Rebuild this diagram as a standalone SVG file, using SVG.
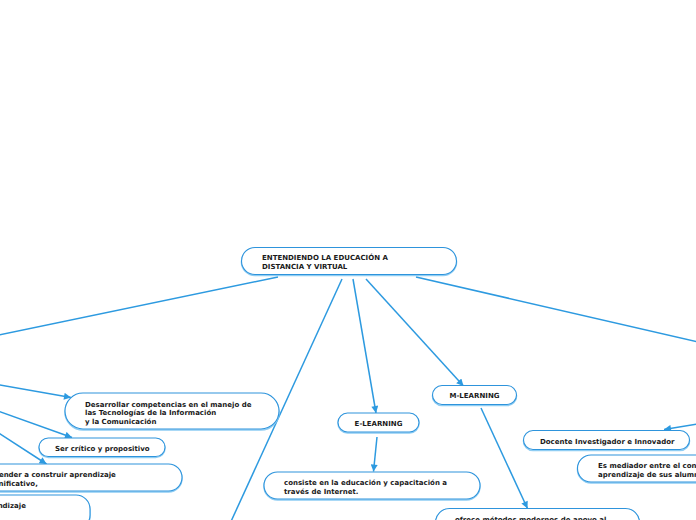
<svg xmlns="http://www.w3.org/2000/svg" width="696" height="520" viewBox="0 0 696 520">
<defs>
<marker id="arr" viewBox="0 0 10 10" refX="10" refY="5" markerWidth="8" markerHeight="7" markerUnits="userSpaceOnUse" orient="auto">
<path d="M0,0 L10,5 L0,10 Z" fill="#2d9ae0"/>
</marker>
<style>
.bg{fill:#ffffff}
.node rect.sh{fill:none;stroke:#8fcdf3;stroke-width:1.6}
.node rect.bx{fill:#ffffff;stroke:#2e94dc;stroke-width:1.1}
.node text{font-family:"DejaVu Sans",Verdana,sans-serif;font-weight:bold;font-size:7px;fill:#1a1a1a}
.conn line{stroke:#2d9ae0;stroke-width:1.5;fill:none}
.conn line.a{marker-end:url(#arr)}
</style>
</defs>
<rect class="bg" x="0" y="0" width="696" height="520"/>

<g id="connectors" class="conn">
<line x1="278" y1="277" x2="-20" y2="339"/>
<line x1="342" y1="279" x2="228" y2="528"/>
<line class="a" x1="353" y1="279" x2="376" y2="413"/>
<line class="a" x1="366" y1="279" x2="463.5" y2="386"/>
<line x1="416" y1="277" x2="716" y2="346"/>
<line class="a" x1="-20" y1="381.5" x2="71" y2="397.5"/>
<line class="a" x1="-20" y1="404.5" x2="72" y2="437.5"/>
<line class="a" x1="-20" y1="421" x2="46.5" y2="464"/>
<line class="a" x1="377" y1="437" x2="373.5" y2="471.5"/>
<line class="a" x1="481" y1="408" x2="527.5" y2="508.5"/>
<line class="a" x1="716" y1="421" x2="664" y2="429.5"/>
</g>

<g id="n-central" class="node">
<rect class="sh" x="241.5" y="248.5" width="215" height="27" rx="13.5"/>
<rect class="bx" x="241.5" y="247.5" width="215" height="27" rx="13.5"/>
<text x="262" y="259.5">ENTENDIENDO LA EDUCACIÓN A</text>
<text x="262" y="268.5">DISTANCIA Y VIRTUAL</text>
</g>

<g id="n-elearning" class="node">
<rect class="sh" x="338" y="414" width="81" height="19" rx="9.5"/>
<rect class="bx" x="338" y="413" width="81" height="19" rx="9.5"/>
<text x="378.5" y="426" text-anchor="middle">E-LEARNING</text>
</g>

<g id="n-consiste" class="node">
<rect class="sh" x="264" y="473" width="216" height="27" rx="13.5"/>
<rect class="bx" x="264" y="472" width="216" height="27" rx="13.5"/>
<text x="284" y="485">consiste en la educación y capacitación a</text>
<text x="284" y="493.5">través de Internet.</text>
</g>

<g id="n-mlearning" class="node">
<rect class="sh" x="432.5" y="386.5" width="84" height="19" rx="9.5"/>
<rect class="bx" x="432.5" y="385.5" width="84" height="19" rx="9.5"/>
<text x="474.5" y="398.3" text-anchor="middle">M-LEARNING</text>
</g>

<g id="n-ofrece" class="node">
<rect class="sh" x="435.5" y="509.5" width="204" height="34" rx="14"/>
<rect class="bx" x="435.5" y="508.5" width="204" height="34" rx="14"/>
<text x="455" y="521.5">ofrece métodos modernos de apoyo al</text>
</g>

<g id="n-docente" class="node">
<rect class="sh" x="523.5" y="431.5" width="166" height="19" rx="9.5"/>
<rect class="bx" x="523.5" y="430.5" width="166" height="19" rx="9.5"/>
<text x="540" y="444">Docente Investigador e Innovador</text>
</g>

<g id="n-mediador" class="node">
<rect class="sh" x="577.5" y="456" width="200" height="27" rx="13.5"/>
<rect class="bx" x="577.5" y="455" width="200" height="27" rx="13.5"/>
<text x="598" y="467.5">Es mediador entre el conocimiento y el</text>
<text x="598" y="476.5">aprendizaje de sus alumnos</text>
</g>

<g id="n-desarrollar" class="node">
<rect class="sh" x="65" y="394" width="214" height="36" rx="18"/>
<rect class="bx" x="65" y="393" width="214" height="36" rx="18"/>
<text x="85" y="406.5">Desarrollar competencias en el manejo de</text>
<text x="85" y="415">las Tecnologías de la Información</text>
<text x="85" y="423.5">y la Comunicación</text>
</g>

<g id="n-critico" class="node">
<rect class="sh" x="39" y="439" width="126" height="18.5" rx="9.25"/>
<rect class="bx" x="39" y="438" width="126" height="18.5" rx="9.25"/>
<text x="55" y="450.5">Ser crítico y propositivo</text>
</g>

<g id="n-aprender" class="node">
<rect class="sh" x="-60" y="465" width="242" height="27" rx="13.5"/>
<rect class="bx" x="-60" y="464" width="242" height="27" rx="13.5"/>
<text x="-15" y="477.3">Aprender a construir aprendizaje</text>
<text x="-13" y="485.5">significativo,</text>
</g>

<g id="n-aprendizaje" class="node">
<rect class="sh" x="-60" y="496" width="150" height="34" rx="14"/>
<rect class="bx" x="-60" y="495" width="150" height="34" rx="14"/>
<text x="-21" y="508.3">Aprendizaje</text>
</g>
</svg>
